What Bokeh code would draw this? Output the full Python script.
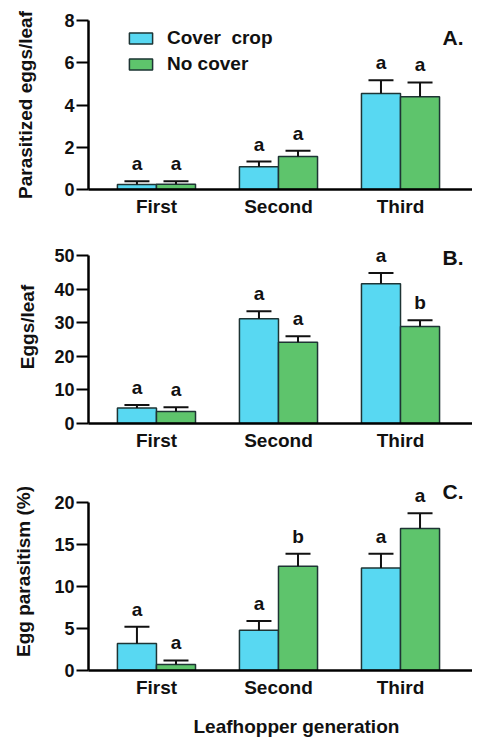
from bokeh.plotting import figure
from bokeh.layouts import column
from bokeh.models import (ColumnDataSource, Range1d, FixedTicker, Whisker, TeeHead,
                          Label, LabelSet, Title)
from bokeh.core.properties import value
from bokeh.embed import file_html
from bokeh.resources import INLINE
from bokeh.transform import dodge

# ---------------- data ----------------
generations = ["First", "Second", "Third"]
gen_pos = [1, 2, 3]
series_names = ["Cover  crop", "No cover"]
x_title = "Leafhopper generation"

# Panel A: parasitized eggs / leaf
a_cover = [0.24, 1.08, 4.55]
a_cover_se = [0.15, 0.24, 0.62]
a_nocover = [0.25, 1.56, 4.39]
a_nocover_se = [0.14, 0.28, 0.68]
a_cover_letters = ["a", "a", "a"]
a_nocover_letters = ["a", "a", "a"]
a_ticks = [0, 2, 4, 6, 8]

# Panel B: eggs / leaf
b_cover = [4.6, 31.2, 41.6]
b_cover_se = [0.9, 2.2, 3.2]
b_nocover = [3.6, 24.2, 28.9]
b_nocover_se = [1.2, 1.8, 1.8]
b_cover_letters = ["a", "a", "a"]
b_nocover_letters = ["a", "a", "b"]
b_ticks = [0, 10, 20, 30, 40, 50]

# Panel C: egg parasitism (%)
c_cover = [3.2, 4.8, 12.2]
c_cover_se = [2.0, 1.1, 1.7]
c_nocover = [0.7, 12.4, 16.9]
c_nocover_se = [0.5, 1.5, 1.8]
c_cover_letters = ["a", "a", "a"]
c_nocover_letters = ["a", "b", "a"]
c_ticks = [0, 5, 10, 15, 20]

# ---------------- style ----------------
FONT = "Liberation Sans"
CYAN = "#58d8f2"
GREEN = "#5ec46c"
EDGE = "#1e3434"
INK = "#111111"
BAR_W = 0.32
OFF = 0.16


def make_panel(cover, cover_se, nocover, nocover_se, cov_let, noc_let, ticks,
               ylabel, panel_tag, top, frame_h, bottom, headroom, ylabel_standoff,
               tag_y, xlabel=None, legend=False):
    src = ColumnDataSource(dict(
        x=gen_pos,
        cover=cover,
        cover_top=[v + e for v, e in zip(cover, cover_se)],
        nocover=nocover,
        nocover_top=[v + e for v, e in zip(nocover, nocover_se)],
        cov_let=cov_let,
        noc_let=noc_let,
    ))
    # extra room above the top tick (axis line stays bounded to the ticks)
    y_end = ticks[-1] * (frame_h + headroom) / frame_h
    height = top + frame_h + bottom
    p = figure(width=472, height=height,
               x_range=Range1d(0.443, 3.59), y_range=Range1d(ticks[0], y_end),
               output_backend="svg", toolbar_location=None,
               min_border_left=88, min_border_right=0,
               min_border_top=top - headroom, min_border_bottom=bottom)
    p.outline_line_color = None
    p.xgrid.visible = False
    p.ygrid.visible = False

    xc = dodge("x", -OFF, range=p.x_range)
    xn = dodge("x", OFF, range=p.x_range)

    kw_c = dict(legend_label=series_names[0]) if legend else {}
    kw_n = dict(legend_label=series_names[1]) if legend else {}
    p.vbar(x=xc, top="cover", width=BAR_W, bottom=0, source=src,
           fill_color=CYAN, line_color=EDGE, line_width=1.5, **kw_c)
    p.vbar(x=xn, top="nocover", width=BAR_W, bottom=0, source=src,
           fill_color=GREEN, line_color=EDGE, line_width=1.5, **kw_n)

    for base, lo, hi in ((xc, "cover", "cover_top"), (xn, "nocover", "nocover_top")):
        w = Whisker(source=src, base=base, lower=lo, upper=hi,
                    upper_head=TeeHead(size=25, line_width=2, line_color=INK),
                    lower_head=None, line_width=2, line_color=INK,
                    level="overlay")
        p.add_layout(w)

    for base, ycol, tcol in ((xc, "cover_top", "cov_let"), (xn, "nocover_top", "noc_let")):
        ls = LabelSet(x=base, y=ycol, text=tcol, source=src, text_align="center",
                      text_baseline="alphabetic", y_offset=11,
                      text_font=value(FONT), text_font_style="bold",
                      text_font_size="19px", text_color=INK)
        p.add_layout(ls)

    # y axis
    ya = p.yaxis[0]
    ya.ticker = FixedTicker(ticks=ticks)
    ya.bounds = (ticks[0], ticks[-1])
    ya.minor_tick_line_color = None
    ya.major_tick_in = 0
    ya.major_tick_out = 12
    ya.major_tick_line_width = 2
    ya.axis_line_width = 2.5
    ya.major_label_standoff = 2
    ya.major_label_text_font = FONT
    ya.major_label_text_font_style = "bold"
    ya.major_label_text_font_size = "18px"
    ya.major_label_text_color = INK
    ya.axis_label = ylabel
    ya.axis_label_text_font = FONT
    ya.axis_label_text_font_style = "bold"
    ya.axis_label_text_font_size = "19px"
    ya.axis_label_text_color = INK
    ya.axis_label_standoff = ylabel_standoff

    # x axis
    xa = p.xaxis[0]
    xa.ticker = FixedTicker(ticks=gen_pos)
    xa.major_label_overrides = {k: v for k, v in zip(gen_pos, generations)}
    xa.minor_tick_line_color = None
    xa.major_tick_in = 0
    xa.major_tick_out = 0
    xa.axis_line_width = 2.5
    xa.major_label_standoff = 6
    xa.major_label_text_font = FONT
    xa.major_label_text_font_style = "bold"
    xa.major_label_text_font_size = "19px"
    xa.major_label_text_color = INK
    if xlabel:
        t = Title(text=xlabel, align="left", offset=105, standoff=26,
                  text_font=FONT, text_font_style="bold", text_font_size="19px",
                  text_color=INK)
        p.add_layout(t, "below")

    # panel tag, measured in screen px from the frame's bottom-left corner
    p.add_layout(Label(x=375, y=tag_y, x_units="screen", y_units="screen",
                       text=panel_tag, text_align="right", text_baseline="alphabetic",
                       text_font=FONT, text_font_style="bold", text_font_size="21px",
                       text_color=INK))

    if legend:
        lg = p.legend[0]
        lg.location = (38, 114)
        lg.border_line_color = None
        lg.background_fill_alpha = 0
        lg.padding = 0
        lg.margin = 0
        lg.spacing = 4
        lg.glyph_width = 29
        lg.glyph_height = 14
        lg.label_standoff = 12
        lg.label_text_font = FONT
        lg.label_text_font_style = "bold"
        lg.label_text_font_size = "19px"
        lg.label_text_color = INK
    return p


pa = make_panel(a_cover, a_cover_se, a_nocover, a_nocover_se,
                a_cover_letters, a_nocover_letters, a_ticks,
                "Parasitized eggs/leaf", "A.", top=20, frame_h=169, bottom=36,
                headroom=0, ylabel_standoff=25, tag_y=152, legend=True)
pb = make_panel(b_cover, b_cover_se, b_nocover, b_nocover_se,
                b_cover_letters, b_nocover_letters, b_ticks,
                "Eggs/leaf", "B.", top=30, frame_h=168, bottom=36,
                headroom=25, ylabel_standoff=13, tag_y=166)
pc = make_panel(c_cover, c_cover_se, c_nocover, c_nocover_se,
                c_cover_letters, c_nocover_letters, c_ticks,
                "Egg parasitism (%)", "C.", top=43, frame_h=169, bottom=78,
                headroom=30, ylabel_standoff=17, tag_y=179,
                xlabel=x_title)

p = column(pa, pb, pc)

open("out.html", "w").write(file_html(p, INLINE))
